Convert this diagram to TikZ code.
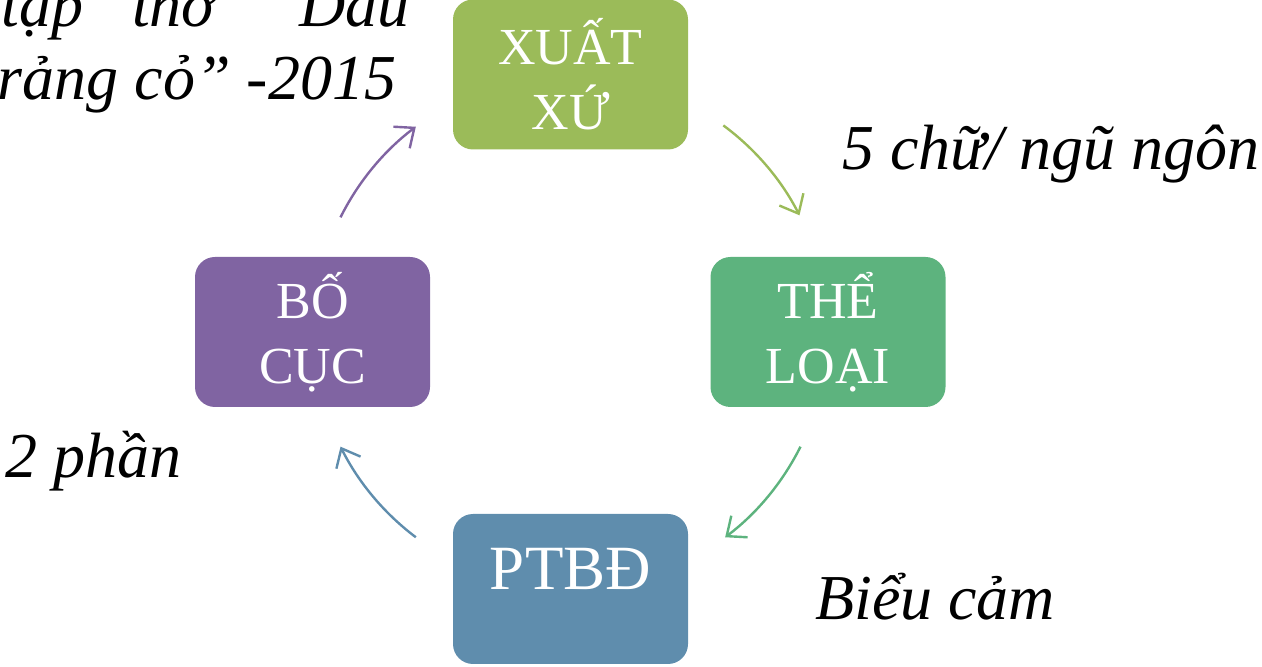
\documentclass[tikz,border=0pt]{standalone}
\usepackage{fontspec}
\setmainfont{Liberation Serif}
\usetikzlibrary{arrows.meta}
\definecolor{cxx}{HTML}{9BBB59}
\definecolor{ctl}{HTML}{5DB37E}
\definecolor{cpt}{HTML}{5F8DAD}
\definecolor{cbc}{HTML}{8064A2}
\begin{document}
\begin{tikzpicture}[x=1pt,y=1pt,
  box/.style={rounded corners=20pt, minimum width=235pt, minimum height=150pt,
    inner sep=0pt, text=white, align=center, font=\fontsize{52}{65}\selectfont},
  arr/.style={line width=2.4pt, -{Straight Barb[length=16pt,width=27pt]}},
  lab/.style={font=\fontsize{64}{75}\selectfont\itshape, inner sep=0pt, anchor=base west}]
\useasboundingbox (0,0) rectangle (1262,667);
\clip (0,0) rectangle (1262,667);
\node[box, fill=cxx] (xx) at (570.5,592.5) {XUẤT\\XỨ};
\node[box, fill=ctl] (tl) at (828,335) {THỂ\\LOẠI};
\node[box, fill=cpt, font=\fontsize{63}{70}\selectfont, text height=22pt, text depth=20pt] (pt) at (570.5,78) {PTBĐ};
\node[box, fill=cbc] (bc) at (312.5,335) {BỐ\\CỤC};
\coordinate (C) at (570.5,335);
\coordinate (s1) at ([shift={(53.5:257)}]C);
\coordinate (s2) at ([shift={(-26.5:257)}]C);
\coordinate (s3) at ([shift={(233:257)}]C);
\coordinate (s4) at ([shift={(153.5:257)}]C);
\draw[arr, draw=cxx] (s1) arc[start angle=53.5, end angle=27, radius=257];
\draw[arr, draw=ctl] (s2) arc[start angle=-26.5, end angle=-53, radius=257];
\draw[arr, draw=cpt] (s3) arc[start angle=233, end angle=206.5, radius=257];
\draw[arr, draw=cbc] (s4) arc[start angle=153.5, end angle=127, radius=257];
\node[lab] (l5) at (842,497) {5 chữ/ ngũ ngôn};
\node[lab] (lb) at (815,47) {Biểu cảm};
\node[lab] (l2) at (5,189) {2 phần};
\node[lab, anchor=base east] (t1) at (410,640) {tập\hspace{49pt}thơ\hspace{48pt}“Dấu};
\node[lab] (t2) at (-20,567) {trảng cỏ” -2015};
\end{tikzpicture}
\end{document}
